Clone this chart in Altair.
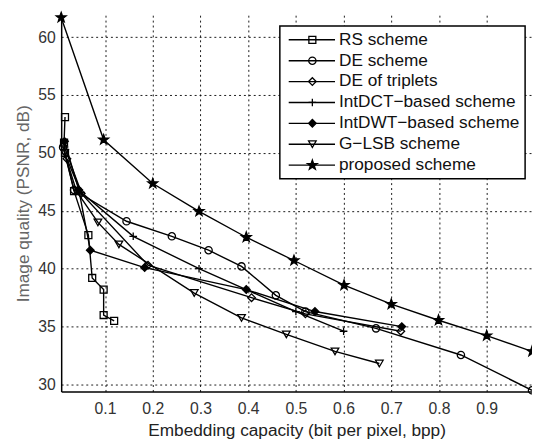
import altair as alt
import pandas as pd

legend_labels = ["RS scheme", "DE scheme", "DE of triplets", "IntDCT\u2212based scheme",
                 "IntDWT\u2212based scheme", "G\u2212LSB scheme", "proposed scheme"]

rs_x = [0.016, 0.014, 0.016, 0.035, 0.065, 0.073, 0.097, 0.097, 0.119]
rs_y = [53.1, 50.9, 50.0, 46.7, 42.9, 39.2, 38.2, 36.0, 35.5]

de_x = [0.012, 0.035, 0.145, 0.240, 0.317, 0.386, 0.458, 0.520, 0.668, 0.846, 0.995]
de_y = [50.5, 46.8, 44.1, 42.8, 41.6, 40.2, 37.7, 36.3, 34.85, 32.55, 29.5]

tri_x = [0.020, 0.050, 0.190, 0.407, 0.520, 0.720]
tri_y = [49.5, 46.5, 40.3, 37.5, 36.1, 34.6]

dct_x = [0.015, 0.050, 0.159, 0.297, 0.396, 0.500, 0.600]
dct_y = [50.5, 46.6, 42.8, 40.0, 38.2, 36.3, 34.6]

dwt_x = [0.015, 0.045, 0.069, 0.183, 0.396, 0.540, 0.722]
dwt_y = [51.0, 46.8, 41.6, 40.1, 38.2, 36.3, 35.0]

glsb_x = [0.015, 0.040, 0.085, 0.129, 0.287, 0.386, 0.480, 0.582, 0.675]
glsb_y = [50.0, 46.7, 44.0, 42.1, 37.9, 35.75, 34.33, 32.86, 31.81]

prop_x = [0.008, 0.097, 0.200, 0.297, 0.396, 0.496, 0.601, 0.700, 0.799, 0.900, 0.995]
prop_y = [61.7, 51.14, 47.36, 44.96, 42.72, 40.71, 38.58, 36.94, 35.55, 34.22, 32.86]

x_ticks = [0.1, 0.2, 0.3, 0.4, 0.5, 0.6, 0.7, 0.8, 0.9]
y_ticks = [30, 35, 40, 45, 50, 55, 60]

all_x = [rs_x, de_x, tri_x, dct_x, dwt_x, glsb_x, prop_x]
all_y = [rs_y, de_y, tri_y, dct_y, dwt_y, glsb_y, prop_y]

rows = []
for lab, xs, ys in zip(legend_labels, all_x, all_y):
    for i, (a, b) in enumerate(zip(xs, ys)):
        rows.append({"series": lab, "x": a, "y": b, "order": i})
df = pd.DataFrame(rows)

STAR = ("M0,-1L0.235,-0.324L0.951,-0.309L0.380,0.124L0.588,0.809L0,0.4"
        "L-0.588,0.809L-0.380,0.124L-0.951,-0.309L-0.235,-0.324Z")
shapes = ["square", "circle", "diamond", "M-1,0H1M0,-1V1", "diamond", "triangle-down", STAR]
fills = ["transparent", "transparent", "transparent", "transparent", "black", "transparent", "black"]
sizes = [50, 55, 60, 60, 60, 60, 110]

FONT = "Liberation Sans"
xscale = alt.Scale(domain=[0.008, 0.995], nice=False, zero=False)
yscale = alt.Scale(domain=[29.4, 61.9], nice=False, zero=False)

xaxis = alt.Axis(values=x_ticks, format=".1f", title="Embedding capacity (bit per pixel, bpp)",
                 orient="bottom",
                 grid=True, gridColor="black", gridDash=[2, 3], gridOpacity=0.9, gridWidth=1,
                 ticks=False, labelPadding=9, titlePadding=6, domainColor="black", domainWidth=1.5,
                 labelFontSize=16, titleFontSize=17.5, labelColor="#333", titleColor="#222",
                 titleFontWeight="normal", labelFont=FONT, titleFont=FONT)
yaxis = alt.Axis(values=y_ticks, title="Image quality (PSNR, dB)", orient="left",
                 grid=True, gridColor="black", gridDash=[2, 3], gridOpacity=0.9, gridWidth=1,
                 ticks=False, labelPadding=6, titlePadding=5, domainColor="black", domainWidth=1.5,
                 labelFontSize=16, titleFontSize=17.5, labelColor="#333", titleColor="#666",
                 titleFontWeight="normal", labelFont=FONT, titleFont=FONT)

base = alt.Chart(df)
lines = base.mark_line(color="black", strokeWidth=1.4).encode(
    x=alt.X("x:Q", scale=xscale, axis=xaxis),
    y=alt.Y("y:Q", scale=yscale, axis=yaxis),
    detail="series:N",
    order="order:Q",
)
layers = [lines]
for lab, shp, fl, sz in zip(legend_labels, shapes, fills, sizes):
    layers.append(
        base.transform_filter(alt.datum.series == lab)
        .mark_point(shape=shp, filled=True, fill=fl, stroke="black", strokeWidth=1.3, size=sz, opacity=1)
        .encode(x=alt.X("x:Q", scale=xscale), y=alt.Y("y:Q", scale=yscale))
    )

# legend box and entries (pixel positions inside the plot area)
one = alt.Chart(pd.DataFrame({"a": [0]}))
layers.append(one.mark_rect(fill="white", stroke="black", strokeWidth=1.5).encode(
    x=alt.value(222), x2=alt.value(471), y=alt.value(11), y2=alt.value(166)))
for i, (lab, shp, fl, sz) in enumerate(zip(legend_labels, shapes, fills, sizes)):
    py = 25 + 21.2 * i
    layers.append(one.mark_rule(color="black", strokeWidth=1.4).encode(
        x=alt.value(231), x2=alt.value(278), y=alt.value(py)))
    layers.append(one.mark_point(shape=shp, filled=True, fill=fl, stroke="black", strokeWidth=1.3,
                                 size=sz, opacity=1).encode(x=alt.value(255), y=alt.value(py)))
    layers.append(one.mark_text(align="left", baseline="middle", fontSize=17.5, font=FONT,
                                color="#111", text=lab).encode(x=alt.value(282), y=alt.value(py)))

chart = alt.layer(*layers).properties(
    width=478, height=382,
    padding={"left": 54, "top": 4, "right": 0, "bottom": 45},
    autosize=alt.AutoSizeParams(type="none"),
).configure_view(stroke=None)

chart.save("out.html", embed_options={"renderer": "svg", "actions": False})
